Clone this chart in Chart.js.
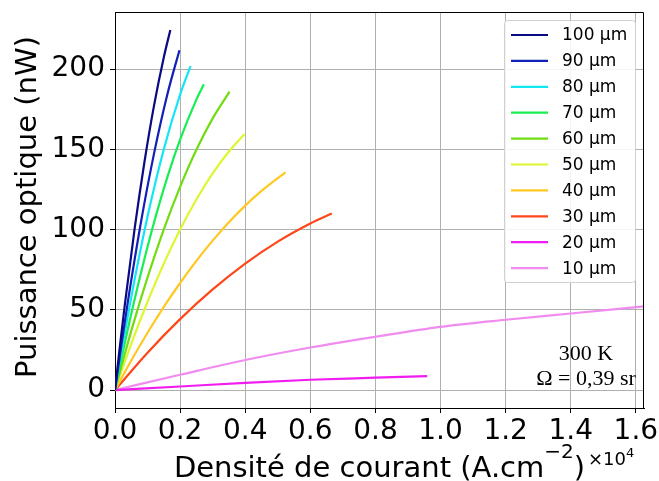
<!DOCTYPE html>
<html>
<head>
<meta charset="utf-8">
<script src="https://cdn.jsdelivr.net/npm/chart.js@4"></script>
<style>
  html, body { margin: 0; padding: 0; background: #fff; }
  canvas { display: block; }
</style>
</head>
<body>
<canvas id="chart" width="659" height="481"></canvas>
<script>
// Courbes P(J)
const labels = ["100 µm", "90 µm", "80 µm", "70 µm", "60 µm", "50 µm", "40 µm", "30 µm", "20 µm", "10 µm"]

const j100 = [0, 0.015, 0.03, 0.06, 0.09, 0.12, 0.15, 0.17]
const p100 = [0, 27.2, 52.9, 100.1, 141.5, 177.4, 207.4, 224.4]

const j90 = [0, 0.02, 0.04, 0.08, 0.12, 0.16, 0.198]
const p90 = [0, 28.7, 55.7, 104.9, 147.5, 183.6, 211.8]

const j80 = [0, 0.025, 0.05, 0.10, 0.15, 0.20, 0.232]
const p80 = [0, 30, 58, 108.1, 150.1, 184.2, 201.9]

const j70 = [0, 0.025, 0.05, 0.10, 0.15, 0.20, 0.25, 0.273]
const p70 = [0, 24.4, 47.5, 89.3, 125.5, 156, 181, 190.6]

const j60 = [0, 0.05, 0.10, 0.15, 0.20, 0.25, 0.30, 0.352]
const p60 = [0, 36.9, 70.2, 100.2, 126.6, 149.7, 169.3, 186]

const j50 = [0, 0.05, 0.10, 0.15, 0.20, 0.25, 0.30, 0.35, 0.398]
const p50 = [0, 28.8, 55, 78.8, 100, 118.7, 135, 148.7, 159.5]

const j40 = [0, 0.05, 0.10, 0.15, 0.20, 0.25, 0.30, 0.35, 0.40, 0.45, 0.50, 0.524]
const p40 = [0, 18.4, 35.7, 51.8, 66.7, 80.5, 93.1, 104.6, 114.9, 124.1, 132.1, 135.6]

const j30 = [0, 0.1, 0.2, 0.3, 0.4, 0.5, 0.6, 0.666]
const p30 = [0, 23.3, 44.2, 62.7, 78.8, 92.5, 103.8, 110]

const j20 = [0, 0.2, 0.4, 0.6, 0.8, 0.959]
const p20 = [0, 2.2, 4.5, 6.4, 7.7, 8.7]

const j10 = [0, 0.2, 0.4, 0.6, 0.8, 1.0, 1.2, 1.4, 1.625]
const p10 = [0, 9.5, 18.7, 26.5, 33.2, 39.4, 43.8, 47.7, 52.1]

const xTicks = [0, 0.2, 0.4, 0.6, 0.8, 1.0, 1.2, 1.4, 1.6]
const yTicks = [0, 50, 100, 150, 200]

const colors = ["#0a0a84", "#1020b8", "#10e6f6", "#18ee52", "#70dc12",
                "#def630", "#ffc820", "#ff4618", "#f01cf0", "#f08cf0"]

const curves = [
  [j100, p100], [j90, p90], [j80, p80], [j70, p70], [j60, p60],
  [j50, p50], [j40, p40], [j30, p30], [j20, p20], [j10, p10]
]

const FONT = "'DejaVu Sans', sans-serif"

const decor = {
  id: "decor",
  afterDraw(chart) {
    const { ctx, chartArea: a } = chart
    ctx.save()

    // top and right spines
    ctx.strokeStyle = "#000"
    ctx.lineWidth = 1
    ctx.beginPath()
    ctx.moveTo(a.left, a.top + 0.5)
    ctx.lineTo(a.right - 0.5, a.top + 0.5)
    ctx.lineTo(a.right - 0.5, a.bottom)
    ctx.stroke()

    // legend
    const lx = 504, ly = 20, lw = 131, lh = 262
    ctx.fillStyle = "rgba(255,255,255,0.85)"
    ctx.strokeStyle = "#d0d0d0"
    ctx.beginPath()
    ctx.roundRect(lx + 0.5, ly + 0.5, lw, lh, 3)
    ctx.fill()
    ctx.stroke()
    ctx.font = "17px " + FONT
    ctx.textBaseline = "middle"
    ctx.textAlign = "left"
    chart.data.datasets.forEach((ds, i) => {
      const y = 35 + i * 25.9
      ctx.strokeStyle = ds.borderColor
      ctx.lineWidth = 2.2
      ctx.beginPath()
      ctx.moveTo(511, y)
      ctx.lineTo(548, y)
      ctx.stroke()
      ctx.fillStyle = "#000"
      ctx.fillText(ds.label, 562, y + 1)
    })

    // annotation
    ctx.fillStyle = "#000"
    ctx.font = "22px 'Liberation Serif', serif"
    ctx.textAlign = "center"
    ctx.textBaseline = "alphabetic"
    ctx.fillText("300 K", 586, 359.5)
    ctx.fillText("Ω = 0,39 sr", 586, 384.5)

    // y title
    ctx.save()
    ctx.translate(36, 207)
    ctx.rotate(-Math.PI / 2)
    ctx.font = "29px " + FONT
    ctx.fillText("Puissance optique (nW)", 0, 0)
    ctx.restore()

    // x title with superscript
    const main1 = "Densité de courant (A.cm", sup = "−2", main2 = ")"
    ctx.textAlign = "left"
    ctx.font = "29px " + FONT
    const w1 = ctx.measureText(main1).width
    const w3 = ctx.measureText(main2).width
    ctx.font = "20px " + FONT
    const w2 = ctx.measureText(sup).width
    let x = (a.left + a.right) / 2 - (w1 + w2 + w3) / 2
    const base = 476.5
    ctx.font = "29px " + FONT
    ctx.fillText(main1, x, base)
    x += w1
    ctx.font = "20px " + FONT
    ctx.fillText(sup, x, base - 19)
    x += w2
    ctx.font = "29px " + FONT
    ctx.fillText(main2, x, base)

    // offset text
    ctx.font = "18px " + FONT
    ctx.fillText("×10", 588, 465)
    const wo = ctx.measureText("×10").width
    ctx.font = "13px " + FONT
    ctx.fillText("4", 588 + wo, 457)

    ctx.restore()
  }
}

new Chart(document.getElementById("chart"), {
  type: "scatter",
  data: {
    datasets: curves.map(([js, ps], i) => ({
      label: labels[i],
      data: js.map((v, k) => ({ x: v, y: ps[k] })),
      showLine: true,
      borderColor: colors[i],
      backgroundColor: colors[i],
      borderWidth: 2.2,
      pointRadius: 0,
      cubicInterpolationMode: "monotone",
      order: i
    }))
  },
  options: {
    responsive: false,
    animation: false,
    layout: { padding: { left: 0, top: 12, right: 15, bottom: 0 } },
    plugins: {
      legend: { display: false },
      tooltip: { enabled: false }
    },
    scales: {
      x: {
        type: "linear",
        min: 0,
        max: 1.625,
        afterBuildTicks: axis => { axis.ticks = xTicks.map(v => ({ value: v })) },
        afterFit: scale => {
          scale.height = 73
          scale.paddingLeft = 0
          scale.paddingRight = 0
        },
        grid: { color: "#b0b0b0", lineWidth: 1, tickLength: 5, tickColor: "#000" },
        border: { color: "#000", width: 1 },
        ticks: {
          font: { family: FONT, size: 28 },
          color: "#000",
          padding: 2,
          maxRotation: 0,
          autoSkip: false,
          callback: v => v.toFixed(1)
        }
      },
      y: {
        type: "linear",
        min: -11.2,
        max: 235.6,
        afterBuildTicks: axis => { axis.ticks = yTicks.map(v => ({ value: v })) },
        afterFit: scale => {
          scale.width = 115
          scale.paddingTop = 0
          scale.paddingBottom = 0
        },
        grid: { color: "#b0b0b0", lineWidth: 1, tickLength: 5, tickColor: "#000" },
        border: { color: "#000", width: 1 },
        ticks: {
          font: { family: FONT, size: 28 },
          color: "#000",
          padding: 5,
          autoSkip: false,
          callback: v => String(v)
        }
      }
    }
  },
  plugins: [decor]
})
</script>
</body>
</html>
